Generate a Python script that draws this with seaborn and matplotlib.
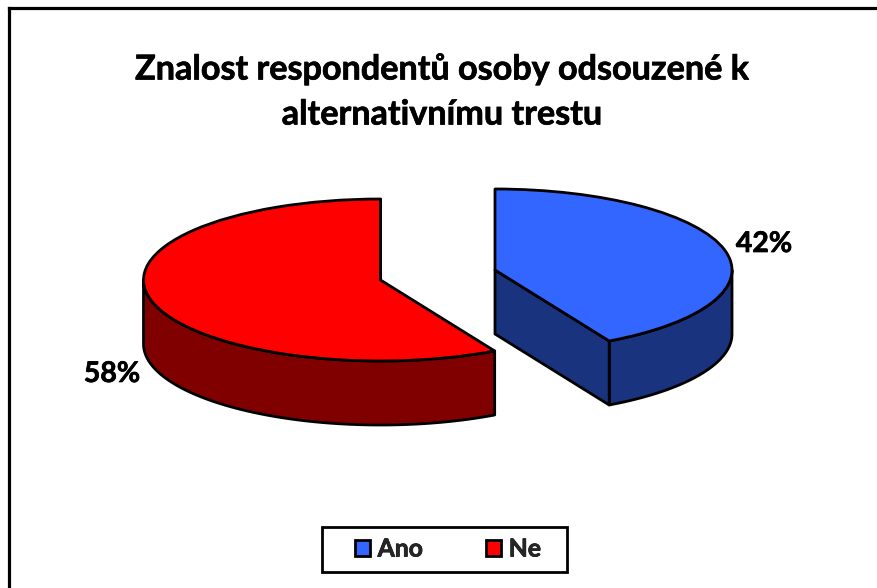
import numpy as np
import matplotlib
matplotlib.use('Agg')
import matplotlib.pyplot as plt
import matplotlib.patheffects as pe
import seaborn as sns

# data
categories = ['Ano', 'Ne']
shares = [42, 58]
pct_labels = ['42%', '58%']
title_text = 'Znalost respondentů osoby odsouzené k\nalternativnímu trestu'

top_colors = ['#3366FF', '#FF0000']
side_colors = ['#1A337F', '#800000']

W, H = 878, 588
RX, RY = 237, 81      # pie radius on screen, px
DEPTH = 64 / RY
# apex of each slice in px, exploded apart
apex_px = [(495, 270), (380.5, 280)]
label_px = [(764, 244), (112, 374)]

sns.set_theme(style='white')
plt.rcParams['font.family'] = ['Lato', 'DejaVu Sans']
plt.rcParams['font.weight'] = 'bold'

# Lato Bold is a bit lighter than the original face
heavier = [pe.withStroke(linewidth=0.5, foreground='black')]


def to_data(px, py):
    return px / RX, (H - py) / RY


def arc(center, t0, t1):
    t = np.radians(np.linspace(t0, t1, 80))
    return center[0] + np.sin(t), center[1] + np.cos(t)


fig = plt.figure(figsize=(W / 100, H / 100), dpi=100, facecolor='white')
ax = fig.add_axes([0, 0, 1, 1])

# slices go clockwise from 12 o'clock, Ne is drawn first so Ano sits on top
starts = np.cumsum([0] + shares[:-1]) * 3.6
for i in [1, 0]:
    center = to_data(*apex_px[i])
    t0 = starts[i]
    t1 = t0 + shares[i] * 3.6

    # outer wall, only the part that faces the viewer
    lo, hi = max(t0, 90), min(t1, 270)
    xs, ys = arc(center, lo, hi)
    ax.fill(np.r_[xs, xs[::-1]], np.r_[ys, ys[::-1] - DEPTH],
            fc=side_colors[i], ec='black', lw=2, joinstyle='round', zorder=2 * (1 - i) + 1)

    # flat cut at the end of the slice
    ex, ey = arc(center, t1, t1)
    ax.fill([center[0], ex[0], ex[0], center[0]],
            [center[1], ey[0], ey[0] - DEPTH, center[1] - DEPTH],
            fc=side_colors[i], ec='black', lw=2, joinstyle='round', zorder=2 * (1 - i) + 1)

    ax.pie([shares[i] / 100], normalize=False, center=center, radius=1,
           startangle=90 - t0, counterclock=False, colors=[top_colors[i]],
           wedgeprops={'edgecolor': 'black', 'linewidth': 2, 'joinstyle': 'round',
                       'zorder': 2 * (1 - i) + 2})

# pie() forces a round aspect, the perspective squash needs it off again
ax.set_aspect('auto')
ax.set_xlim(0, W / RX)
ax.set_ylim(0, H / RY)
ax.axis('off')

for lab, (px, py) in zip(pct_labels, label_px):
    fig.text(px / W, 1 - py / H, lab, ha='center', va='center', fontsize=20.5,
             fontweight='bold', color='black', path_effects=heavier)

fig.text(442 / W, 1 - 91.5 / H, title_text, ha='center', va='center', fontsize=24.6,
         fontweight='bold', color='black', linespacing=1.5, path_effects=heavier)

# frame only runs along top and left, the crop cut the rest
fig.add_artist(plt.Line2D([9.5 / W, 9.5 / W], [0, 1 - 7.5 / H], color='black', lw=2.3,
                          solid_capstyle='projecting'))
fig.add_artist(plt.Line2D([9.5 / W, 1], [1 - 7.5 / H, 1 - 7.5 / H], color='black', lw=2.3,
                          solid_capstyle='projecting'))

# legend box is wider than the entries need, so the frame is its own patch
fig.add_artist(plt.Rectangle((322.5 / W, 1 - 572 / H), 244.5 / W, 45.5 / H, fc='white', ec='black',
                             lw=2, transform=fig.transFigure))
leg_handles = [plt.Rectangle((0, 0), 1, 1, fc=c, ec='black', lw=2) for c in top_colors]
leg = fig.legend(leg_handles, categories, ncol=2, loc='center',
                 bbox_to_anchor=(448 / W, 1 - 549 / H),
                 prop={'family': 'Lato', 'weight': 'bold', 'size': 17.8},
                 frameon=False, handlelength=0.62, handleheight=0.62, handletextpad=0.3,
                 columnspacing=2.55, borderpad=0, borderaxespad=0)
for t in leg.get_texts():
    t.set_path_effects(heavier)

fig.savefig('out.png', dpi=100)
